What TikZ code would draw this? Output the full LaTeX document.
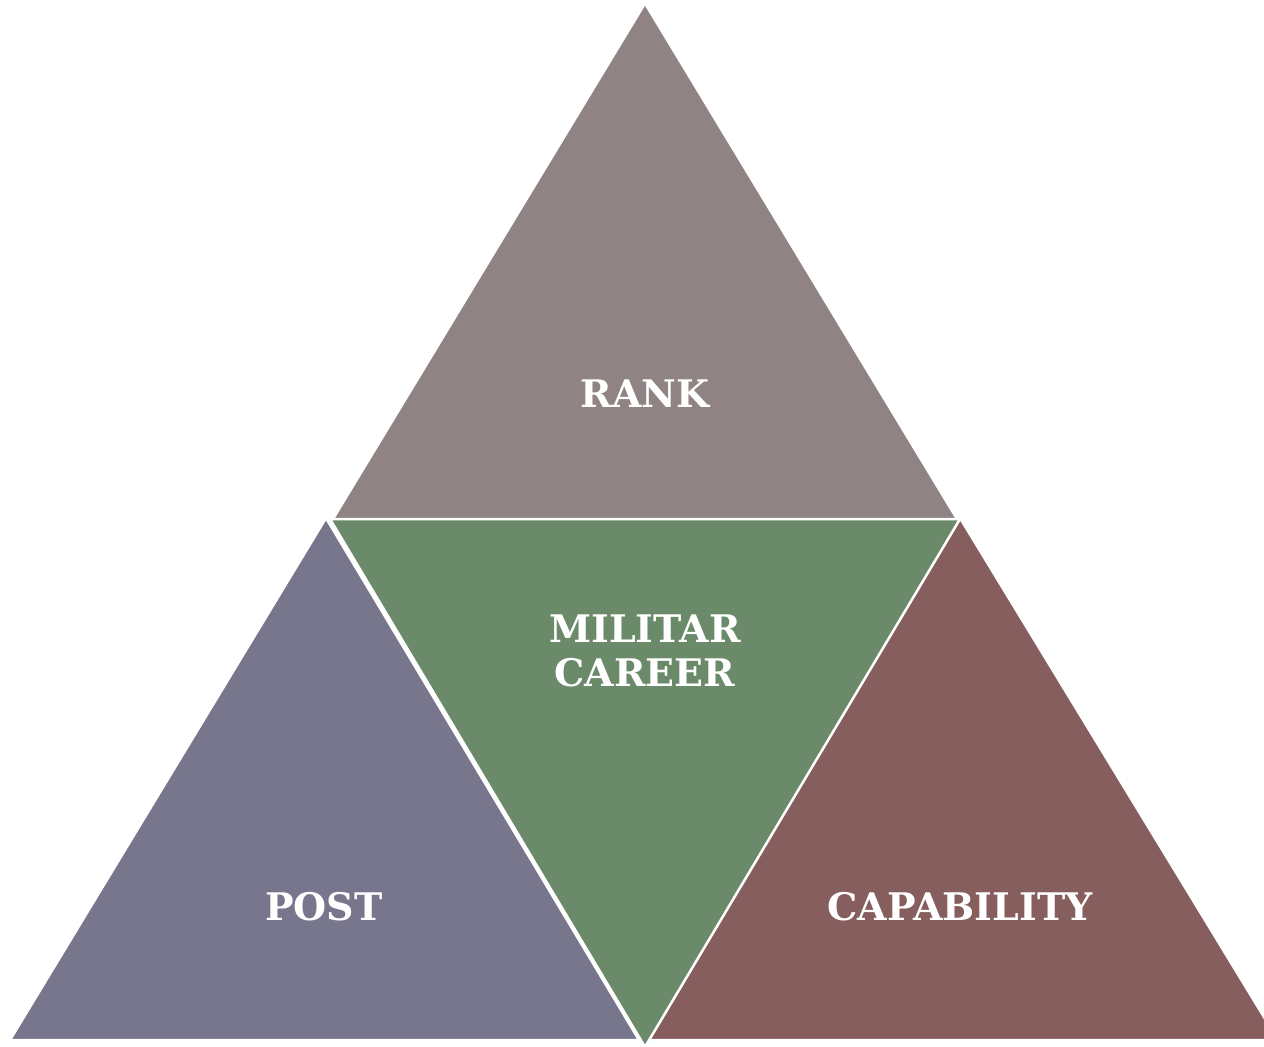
\documentclass[tikz,border=0pt]{standalone}
\usepackage{fontspec}
\setmainfont{DejaVu Serif}
\definecolor{rankgray}{HTML}{8F8383}
\definecolor{postblue}{HTML}{77768C}
\definecolor{careergreen}{HTML}{6B8A6A}
\definecolor{capred}{HTML}{855E5D}
\tikzset{
	tri/.style={draw=white, line width=2.5pt, line join=miter},
	lbl/.style={text=white, font=\bfseries\fontsize{38}{44}\selectfont, align=center}
}
\begin{document}
\begin{tikzpicture}[x=1pt, y=-1pt]
	\useasboundingbox (0,0) rectangle (1264,1047);
	%top triangle
	\fill[rankgray] (645,6) -- (956,520) -- (334,520) -- cycle;
	\draw[tri] (334,520) -- (956,520);
	%bottom left and right
	\filldraw[tri, fill=postblue] (326,518) -- (639,1040) -- (10,1040) -- cycle;
	\filldraw[tri, fill=capred] (960,518) -- (1278,1040) -- (643,1040) -- cycle;
	%middle
	\filldraw[tri, fill=careergreen] (330,519) -- (960,519) -- (645,1047) -- cycle;
	%labels
	\node[lbl] (rank) at (645,394) {RANK};
	\node[lbl] (career) at (645,651) {MILITAR\\CAREER};
	\node[lbl] (post) at (324,907) {POST};
	\node[lbl] (capability) at (960,907) {CAPABILITY};
\end{tikzpicture}
\end{document}
